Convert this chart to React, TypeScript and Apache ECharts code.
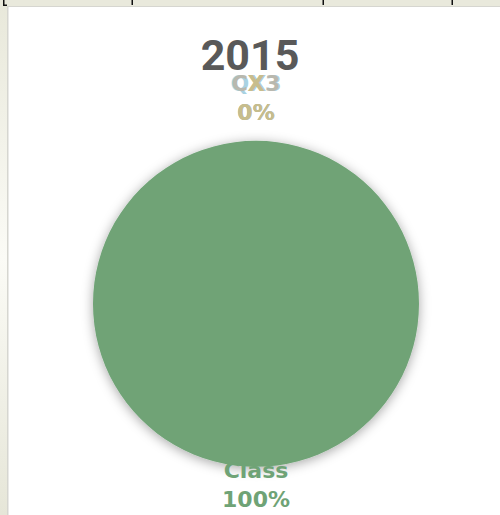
import React, { useEffect, useRef } from "react";
import * as echarts from "echarts";

const title = "2015";
const categories = ["QX3", "CX3", "X", "Class"];
const values = [0, 0, 0, 100];
const colors = ["#a9d2e2", "#b9b8ae", "#c7bd8c", "#6fa376"];

const CX = 0.512;
const CY = 0.59;
const R = 163;

export default function App() {
  const ref = useRef<HTMLDivElement>(null);
  useEffect(() => {
    const chart = echarts.init(ref.current!, null, { renderer: "svg" });
    const W = 500;
    const H = 515;
    chart.setOption({
      animation: false,
      backgroundColor: "#ffffff",
      title: {
        text: title,
        left: "center",
        top: 28,
        textStyle: {
          fontFamily: "'Liberation Sans Narrow', 'Roboto', sans-serif",
          fontWeight: "bold",
          fontSize: 43,
          color: "#595959",
        },
      },
      graphic: [
        { type: "rect", shape: { x: 0, y: 0, width: 500, height: 6 }, style: { fill: "#e9e9dc" }, silent: true },
        { type: "rect", shape: { x: 0, y: 6, width: 500, height: 1 }, style: { fill: "#d6d6d0" }, silent: true },
        {
          type: "rect",
          shape: { x: 0, y: 0, width: 7, height: 515 },
          style: {
            fill: new echarts.graphic.LinearGradient(0, 0, 0, 1, [
              { offset: 0, color: "#e8e8da" },
              { offset: 0.5, color: "#fbfbf6" },
              { offset: 1, color: "#e6e6d8" },
            ]),
          },
          silent: true,
        },
        { type: "rect", shape: { x: 7, y: 6, width: 1.5, height: 509 }, style: { fill: "#d6d6d0" }, silent: true },
        { type: "rect", shape: { x: 3, y: 0, width: 1.5, height: 6 }, style: { fill: "#111" }, silent: true },
        { type: "rect", shape: { x: 3, y: 4.5, width: 4, height: 1.5 }, style: { fill: "#111" }, silent: true },
        { type: "rect", shape: { x: 131.5, y: 0, width: 1.5, height: 5 }, style: { fill: "#111" }, silent: true },
        { type: "rect", shape: { x: 322.5, y: 0, width: 1.5, height: 5 }, style: { fill: "#111" }, silent: true },
        { type: "rect", shape: { x: 451.5, y: 0, width: 1.5, height: 5 }, style: { fill: "#111" }, silent: true },
      ],
      series: [
        {
          type: "pie",
          center: [CX * 100 + "%", CY * 100 + "%"],
          radius: R,
          startAngle: 90,
          avoidLabelOverlap: false,
          data: categories.map((c, i) => ({
            name: c,
            value: values[i],
            itemStyle: { color: colors[i] },
            label: { color: colors[i] },
          })),
          itemStyle: {
            shadowBlur: 12,
            shadowColor: "rgba(0,0,0,0.35)",
            shadowOffsetY: 2,
          },
          label: {
            show: true,
            position: "outside",
            formatter: "{b}\n{d}%",
            fontFamily: "'DejaVu Sans', sans-serif",
            fontWeight: "bold",
            fontSize: 22,
            lineHeight: 29,
            align: "center",
          },
          labelLine: { show: false },
          labelLayout: (params: any) => {
            const cx = W * CX;
            const cy = H * CY;
            const v = values[params.dataIndex];
            if (v === 0) {
              return { x: cx, y: cy - R - 14, align: "center", verticalAlign: "bottom" };
            }
            return { x: cx, y: cy + R - 11, align: "center", verticalAlign: "top" };
          },
        },
      ],
    });
    return () => chart.dispose();
  }, []);
  return (
    <div
      ref={ref}
      style={{ position: "absolute", left: 0, top: 0, width: 500, height: 515 }}
    />
  );
}
